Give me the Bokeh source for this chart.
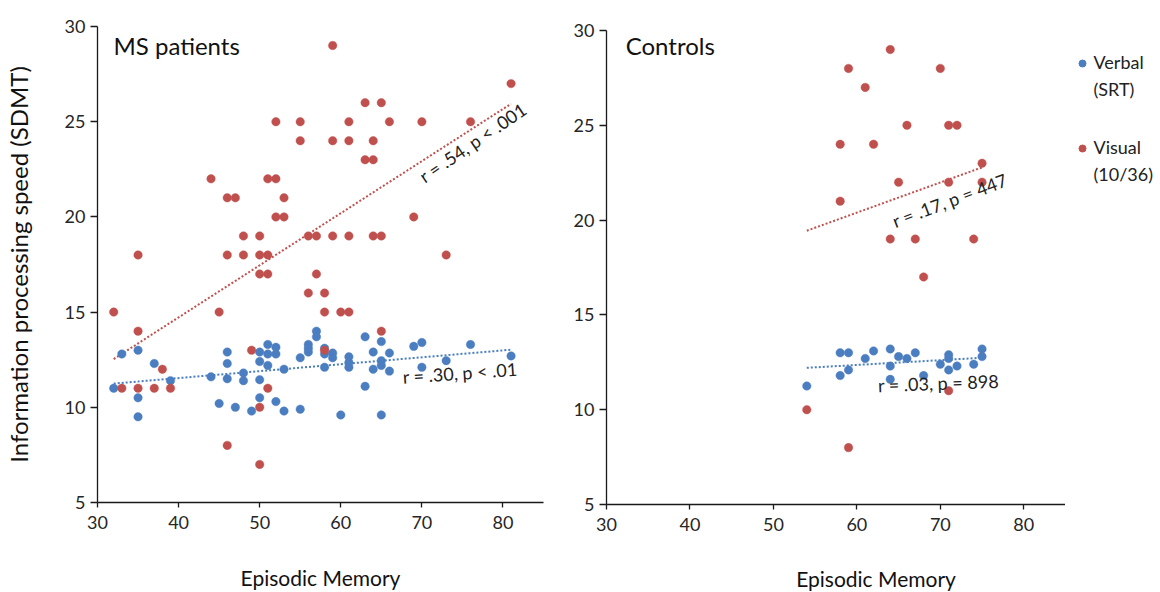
import numpy as np
from bokeh.plotting import figure
from bokeh.models import Range1d, FixedTicker, Label
from bokeh.layouts import row, column
from bokeh.embed import file_html
from bokeh.resources import INLINE

# ---------------- data ----------------
x_ticks = [30, 40, 50, 60, 70, 80]
y_ticks = [5, 10, 15, 20, 25, 30]

ms_verbal_x = [32, 33, 35, 35, 35, 37, 39, 44, 45, 46, 46, 46, 47, 48, 48, 49,
               50, 50, 50, 50, 51, 51, 51, 52, 52, 52, 53, 53, 55, 55, 56, 56,
               56, 57, 57, 58, 58, 58, 59, 59, 60, 61, 61, 61, 63, 63, 64, 64,
               65, 65, 65, 65, 66, 66, 69, 70, 70, 73, 76, 81]
ms_verbal_y = [11.0, 12.8, 13.0, 10.5, 9.5, 12.3, 11.4, 11.6, 10.2, 12.9, 12.3, 11.5,
               10.0, 11.8, 11.4, 9.8, 12.9, 12.4, 11.45, 10.5, 13.3, 12.8, 12.2, 13.15,
               12.8, 10.3, 12.0, 9.8, 12.6, 9.9, 13.3, 13.1, 12.9, 14.0, 13.7, 13.1,
               12.8, 12.1, 12.85, 12.6, 9.6, 12.65, 12.35, 12.1, 13.7, 11.1, 12.9, 12.0,
               13.45, 12.45, 12.2, 9.6, 12.85, 11.9, 13.2, 13.4, 12.1, 12.45, 13.3, 12.7]

ms_visual_x = [59, 81, 63, 65, 52, 55, 61, 66, 70, 76, 55, 59, 61, 64, 63, 64,
               44, 51, 52, 46, 47, 53, 52, 53, 69, 48, 50, 56, 57, 59, 61, 64, 65,
               35, 46, 48, 50, 51, 73, 50, 51, 57, 56, 58, 32, 45, 58, 60, 61,
               35, 65, 49, 58, 38, 33, 35, 37, 39, 51, 50, 46, 50]
ms_visual_y = [29, 27, 26, 26, 25, 25, 25, 25, 25, 25, 24, 24, 24, 24, 23, 23,
               22, 22, 22, 21, 21, 21, 20, 20, 20, 19, 19, 19, 19, 19, 19, 19, 19,
               18, 18, 18, 18, 18, 18, 17, 17, 17, 16, 16, 15, 15, 15, 15, 15,
               14, 14, 13, 13, 12, 11, 11, 11, 11, 11, 10, 8, 7]

ctl_verbal_x = [54, 58, 58, 59, 59, 61, 62, 64, 64, 64, 65, 66, 67, 68, 70, 71,
                71, 71, 72, 74, 75, 75]
ctl_verbal_y = [11.25, 13.0, 11.8, 13.0, 12.1, 12.7, 13.1, 13.2, 12.3, 11.6, 12.8, 12.7,
                13.0, 11.8, 12.4, 12.9, 12.7, 12.1, 12.3, 12.4, 13.2, 12.8]

ctl_visual_x = [54, 58, 58, 59, 59, 61, 62, 64, 64, 65, 66, 67, 68, 70, 71, 71,
                71, 72, 74, 75, 75]
ctl_visual_y = [10, 24, 21, 28, 8, 27, 24, 29, 19, 22, 25, 19, 17, 28, 25, 22,
                11, 25, 19, 23, 22]

stats_ms_visual = "r = .54, p < .001"
stats_ms_verbal = "r = .30, p < .01"
stats_ctl_visual = "r = .17, p = 447"
stats_ctl_verbal = "r = .03, p = 898"

x_label = "Episodic Memory"
y_label = "Information processing speed (SDMT)"
legend_labels = [("Verbal", "(SRT)"), ("Visual", "(10/36)")]

# ---------------- style ----------------
BLUE = "#4A7EC1"
RED = "#C0504D"
FONT = "Lato"
AXIS_COLOR = "#1a1a1a"


def trend(xs, ys):
    k, b = np.polyfit(xs, ys, 1)
    x0, x1 = min(xs), max(xs)
    return [x0, x1], [k * x0 + b, k * x1 + b]


def style(p, ylabel=None):
    p.x_range = Range1d(30, 85)
    p.y_range = Range1d(5, 30)
    p.xgrid.visible = False
    p.ygrid.visible = False
    p.outline_line_color = None
    p.background_fill_color = "white"
    p.border_fill_color = "white"
    for ax in (p.xaxis[0], p.yaxis[0]):
        ax.axis_line_color = AXIS_COLOR
        ax.axis_line_width = 1.3
        ax.major_tick_line_color = AXIS_COLOR
        ax.major_tick_line_width = 1.3
        ax.minor_tick_line_color = None
        ax.major_tick_in = 0
        ax.major_label_text_font = FONT
        ax.major_label_text_font_size = "18px"
        ax.major_label_text_color = "#262626"
        ax.axis_label_text_font = FONT
        ax.axis_label_text_font_style = "normal"
        ax.axis_label_text_color = "#111111"
    p.xaxis.axis_label_text_font_size = "21px"
    p.yaxis.axis_label_text_font_size = "24px"
    p.xaxis.ticker = FixedTicker(ticks=x_ticks)
    p.yaxis.ticker = FixedTicker(ticks=y_ticks)
    p.xaxis.major_tick_out = 5
    p.yaxis.major_tick_out = 7
    p.xaxis.major_label_standoff = 8
    p.yaxis.major_label_standoff = 5
    if ylabel:
        p.yaxis.axis_label = ylabel
        p.yaxis.axis_label_standoff = 29


def add_series(p, vx, vy, rx, ry):
    tx, ty = trend(rx, ry)
    p.line(tx, ty, line_color=RED, line_width=2, line_dash="2 2")
    tx, ty = trend(vx, vy)
    p.line(tx, ty, line_color=BLUE, line_width=2, line_dash="2 2")
    p.scatter(vx, vy, size=8.5, fill_color=BLUE, line_color=BLUE, line_alpha=0.4)
    p.scatter(rx, ry, size=8.5, fill_color=RED, line_color=RED, line_alpha=0.4)


def stat_label(p, x, y, text, angle):
    p.add_layout(Label(x=x, y=y, text=text, angle=angle, text_font=FONT,
                       text_font_size="18px", text_color="#222222",
                       text_baseline="alphabetic", text_align="left"))


def blank(width, height, x_start, x_end, y_start, y_end):
    q = figure(width=width, height=height, output_backend="svg", toolbar_location=None,
               min_border=0, x_range=Range1d(x_start, x_end), y_range=Range1d(y_start, y_end),
               x_axis_location=None, y_axis_location=None)
    q.grid.visible = False
    q.outline_line_color = None
    return q


# ---------------- left: MS patients ----------------
p1 = figure(width=560, height=592, output_backend="svg", toolbar_location=None,
            min_border_left=96, min_border_right=17, min_border_top=26,
            min_border_bottom=90)
style(p1, y_label)
p1.xaxis.axis_label = x_label
p1.xaxis.axis_label_standoff = 33
add_series(p1, ms_verbal_x, ms_verbal_y, ms_visual_x, ms_visual_y)
p1.add_layout(Label(x=31.97, y=29.0, text="MS patients", text_font=FONT,
                    text_font_size="24px", text_color="#111111",
                    text_baseline="alphabetic"))
stat_label(p1, 69.9, 22.05, stats_ms_visual, 0.60)
stat_label(p1, 67.65, 11.6, stats_ms_verbal, 0.07)

# ---------------- right: Controls ----------------
p2 = figure(width=505, height=556, output_backend="svg", toolbar_location=None,
            min_border_left=46, min_border_right=0, min_border_top=30,
            min_border_bottom=52)
style(p2)
add_series(p2, ctl_verbal_x, ctl_verbal_y, ctl_visual_x, ctl_visual_y)
p2.add_layout(Label(x=32.3, y=29.2, text="Controls", text_font=FONT,
                    text_font_size="24px", text_color="#111111",
                    text_baseline="alphabetic"))
stat_label(p2, 64.33, 19.92, stats_ctl_visual, 0.36)
stat_label(p2, 62.53, 11.29, stats_ctl_verbal, 0.037)

# x-axis title of the right panel (its frame is aligned with the panel above)
p2lab = blank(505, 36, 30, 85, 36, 0)
p2lab.text([62.3], [22], text=[x_label], text_font_size="21px", text_color="#111111",
           text_align="center", text_baseline="middle", text_font={"value": FONT})

# ---------------- legend panel (frame aligned with the left plot frame) ----------------
p3 = blank(95, 592, 0, 95, 502, 26)
legend_colors = [BLUE, RED]
legend_y = [63, 148]
p3.scatter([17, 17], legend_y, size=7, fill_color=legend_colors, line_color=legend_colors)
for (l1, l2), yy in zip(legend_labels, legend_y):
    p3.text([28], [yy - 2], text=[l1], text_font_size="18px", text_color="#222222",
            text_baseline="alphabetic", text_font={"value": FONT})
    p3.text([28], [yy + 25], text=[l2], text_font_size="18px", text_color="#222222",
            text_baseline="alphabetic", text_font={"value": FONT})

layout = row(p1, column(p2, p2lab), p3)
open("out.html", "w").write(file_html(layout, INLINE))
